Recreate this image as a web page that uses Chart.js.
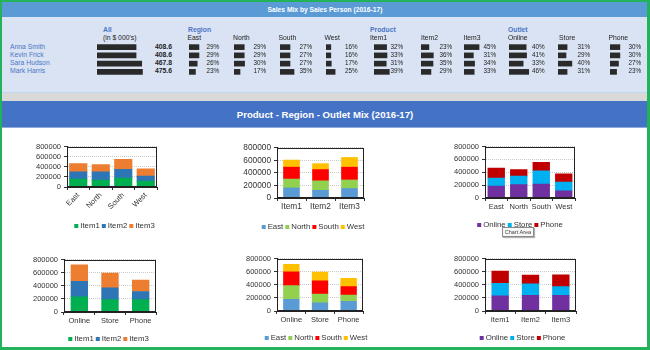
<!DOCTYPE html>
<html>
<head>
<meta charset="utf-8">
<script src="https://cdn.jsdelivr.net/npm/chart.js@4.4.0/dist/chart.umd.min.js"></script>
<style>
body { margin:0; width:650px; height:350px; overflow:hidden; font-family:'Liberation Sans', Arial, sans-serif; }
#page { position:relative; width:650px; height:350px; overflow:hidden; background:#fff; }
.abs { position:absolute; white-space:nowrap; }
canvas { position:absolute; }
#frame { position:absolute; left:0; top:0; width:650px; height:350px; box-sizing:border-box; border:2px solid #21b25a; border-right-width:3px; border-bottom-width:3px; pointer-events:none; z-index:10; }
#tip { position:absolute; left:502px; top:227px; width:30px; height:8px; border:1px solid #8a8a8a; background:#f7f7f7; font-size:5.5px; line-height:8px; text-align:center; color:#444; box-shadow:1px 1px 1px rgba(0,0,0,.3); z-index:5; }
</style>
</head>
<body>
<div id="page">
  <div class="abs" style="left:0;top:0;width:650px;height:17px;background:#5b9bd5"></div>
  <div class="abs" style="left:0;top:17px;width:650px;height:75px;background:#dae3f3"></div>
  <div class="abs" style="left:0;top:92px;width:650px;height:1px;background:#bdd7ee"></div>
  <div class="abs" style="left:0;top:93px;width:650px;height:8px;background:#d9d9d9"></div>
  <div class="abs" style="left:0;top:101px;width:650px;height:27px;background:#4472c4"></div>
  <div class="abs" style="left:0;top:127px;width:650px;height:1px;background:#8eaadb"></div>
  <div class="abs" style="left:0;top:4px;width:650px;text-align:center;color:#fff;font-weight:bold;font-size:6.7px;line-height:11px">Sales Mix by Sales Person (2016-17)</div>
  <div class="abs" style="left:0;top:108px;width:650px;text-align:center;color:#fff;font-weight:bold;font-size:9.6px;line-height:13px">Product - Region - Outlet Mix (2016-17)</div>
  <div id="tip">Chart Area</div>
  <div id="frame"></div>
</div>
<script>
// tabla de vendedores
const people = ['Anna Smith', 'Kevin Frick', 'Sara Hudson', 'Mark Harris'];
const allSales = [408.6, 408.6, 467.8, 475.6];
const eastPct = [29, 29, 26, 23];
const northPct = [29, 29, 30, 17];
const southPct = [27, 27, 27, 35];
const westPct = [16, 16, 17, 25];
const item1Pct = [32, 33, 31, 39];
const item2Pct = [23, 36, 35, 29];
const item3Pct = [45, 31, 34, 33];
const onlinePct = [40, 41, 33, 46];
const storePct = [31, 29, 40, 31];
const phonePct = [30, 30, 27, 23];

// graficos
const regions = ['East', 'North', 'South', 'West'];
const items = ['Item1', 'Item2', 'Item3'];
const outlets = ['Online', 'Store', 'Phone'];
const yTicks = [0, 200000, 400000, 600000, 800000];

const item1ByRegion = [156000, 139000, 174000, 116000];
const item2ByRegion = [145000, 162000, 174000, 98000];
const item3ByRegion = [163000, 140000, 197000, 145000];

const eastByItem = [161000, 123000, 152000];
const northByItem = [142000, 152000, 137000];
const southByItem = [190000, 180000, 204000];
const westByItem = [114000, 95000, 156000];

const onlineByRegion = [184000, 207000, 216000, 113000];
const storeByRegion = [127000, 132000, 208000, 136000];
const phoneByRegion = [155000, 103000, 131000, 127000];

const item1ByOutlet = [230000, 189000, 189000];
const item2ByOutlet = [239000, 179000, 124000];
const item3ByOutlet = [248000, 225000, 174000];

const eastByOutlet = [179000, 124000, 147000];
const northByOutlet = [207000, 133000, 97000];
const southByOutlet = [212000, 203000, 128000];
const westByOutlet = [115000, 133000, 125000];

const onlineByItem = [230000, 239000, 239000];
const storeByItem = [193000, 175000, 133000];
const phoneByItem = [184000, 133000, 179000];

const itemColors = ['#00b050', '#2e75b6', '#ed7d31'];
const regionColors = ['#5b9bd5', '#92d050', '#ff0000', '#ffc000'];
const outletColors = ['#7030a0', '#00b0f0', '#c00000'];

Chart.defaults.font.family = "'Liberation Sans', Arial, sans-serif";
const page = document.getElementById('page');
const blue = '#4a76c6';

function addText(txt, x, y, css, right) {
    const d = document.createElement('div');
    d.className = 'abs';
    d.textContent = txt;
    d.style.top = (y - 5) + 'px';
    d.style.height = '10px';
    d.style.lineHeight = '10px';
    d.style.fontSize = '6.8px';
    d.style.color = '#222';
    if (right) {
        d.style.left = (x - 60) + 'px';
        d.style.width = '60px';
        d.style.textAlign = 'right';
    } else {
        d.style.left = x + 'px';
    }
    Object.assign(d.style, css || {});
    page.appendChild(d);
}

const rowY = [46.6, 54.9, 63.1, 71.4];

function miniBars(values, x, w, min, max) {
    const c = document.createElement('canvas');
    c.width = w; c.height = 33;
    c.style.left = x + 'px';
    c.style.top = '42.5px';
    page.appendChild(c);
    new Chart(c, {
        type: 'bar',
        data: { labels: people, datasets: [{ data: values, backgroundColor: '#2a2a2a', barThickness: 5 }] },
        options: {
            indexAxis: 'y', responsive: false, animation: false, events: [],
            layout: { padding: 0 },
            plugins: { legend: { display: false }, tooltip: { enabled: false } },
            scales: { x: { display: false, min: min, max: max }, y: { display: false } }
        }
    });
}

// cabeceras
addText('All', 103, 30, { color: blue, fontWeight: 'bold' });
addText("(in $ 000's)", 103, 38);
addText('Region', 188, 30, { color: blue, fontWeight: 'bold' });
addText('Product', 370, 30, { color: blue, fontWeight: 'bold' });
addText('Outlet', 508, 30, { color: blue, fontWeight: 'bold' });

people.forEach((p, i) => {
    addText(p, 10, rowY[i], { color: blue });
    addText(allSales[i].toFixed(1), 172, rowY[i], { fontWeight: 'bold' }, true);
});
miniBars(allSales, 97, 50, 0, 523);

const tableCols = [
    { head: 'East', data: eastPct, lx: 187.5, bx: 188.5, px: 219, min: 12, max: 53 },
    { head: 'North', data: northPct, lx: 233, bx: 234, px: 266, min: 0, max: 68 },
    { head: 'South', data: southPct, lx: 278.5, bx: 280, px: 312, min: 7, max: 55 },
    { head: 'West', data: westPct, lx: 324.5, bx: 326, px: 357.5, min: 6, max: 56 },
    { head: 'Item1', data: item1Pct, lx: 370, bx: 374, px: 403, min: 0, max: 61 },
    { head: 'Item2', data: item2Pct, lx: 421, bx: 421, px: 452, min: 0, max: 70 },
    { head: 'Item3', data: item3Pct, lx: 463.5, bx: 463.5, px: 496, min: 8, max: 67 },
    { head: 'Online', data: onlinePct, lx: 508, bx: 509, px: 544.5, min: 0, max: 56 },
    { head: 'Store', data: storePct, lx: 559, bx: 557.5, px: 590, min: 14, max: 59 },
    { head: 'Phone', data: phonePct, lx: 608.5, bx: 609.5, px: 641, min: 9, max: 60 }
];

tableCols.forEach(col => {
    addText(col.head, col.lx, 38);
    col.data.forEach((v, i) => addText(v + '%', col.px, rowY[i], { fontSize: '6.3px' }, true));
    miniBars(col.data, col.bx, 24, col.min, col.max);
});

// marco del area de trazado
const framePlugin = {
    id: 'frame',
    afterDraw(chart) {
        const a = chart.chartArea;
        const ctx = chart.ctx;
        ctx.save();
        ctx.strokeStyle = '#222';
        ctx.lineWidth = 1;
        const l = Math.round(a.left) + 0.5, t = Math.round(a.top) + 0.5;
        const r = Math.round(a.right) - 0.5, b = Math.round(a.bottom) - 0.5;
        ctx.strokeRect(l, t, r - l, b - t);
        ctx.restore();
    }
};

function stackChart(cfg) {
    const c = document.createElement('canvas');
    c.width = cfg.w; c.height = cfg.h;
    c.style.left = cfg.x + 'px';
    c.style.top = cfg.y + 'px';
    page.appendChild(c);
    new Chart(c, {
        type: 'bar',
        data: {
            labels: cfg.labels,
            datasets: cfg.series.map((s, i) => ({
                label: cfg.names[i], data: s, backgroundColor: cfg.colors[i], barThickness: cfg.bar
            }))
        },
        options: {
            responsive: false, animation: false, events: [],
            layout: { padding: 0 },
            plugins: {
                legend: {
                    position: 'bottom',
                    labels: { usePointStyle: true, pointStyle: 'rect', boxWidth: 0.1, boxHeight: 4, padding: 4, color: '#333', font: { size: 7.8 } }
                },
                tooltip: { enabled: false }
            },
            scales: {
                x: {
                    stacked: true,
                    grid: { drawOnChartArea: false, tickLength: 3, tickColor: '#333', offset: true },
                    border: { color: '#222' },
                    ticks: { color: '#333', font: { size: cfg.font }, padding: 1, maxRotation: cfg.rot, minRotation: cfg.rot, autoSkip: false },
                    afterFit: s => { s.height = cfg.xh; }
                },
                y: {
                    stacked: true, min: yTicks[0], max: yTicks[yTicks.length - 1],
                    ticks: { stepSize: yTicks[1] - yTicks[0], autoSkip: false, color: '#333', font: { size: cfg.font }, padding: 3, callback: v => String(v) },
                    grid: { color: '#c8c8c8', tickColor: '#333', tickLength: 3 },
                    border: { color: '#222', dash: [1, 1] },
                    afterFit: s => { s.width = cfg.yw; }
                },
                yR: {
                    position: 'right', display: true,
                    grid: { display: false }, ticks: { display: false }, border: { display: false },
                    afterFit: s => { s.width = cfg.rw; }
                }
            }
        },
        plugins: [framePlugin]
    });
}

stackChart({ x: 30, y: 139, w: 171, h: 101, yw: 37, rw: 44, xh: 31.2, rot: 45, font: 7.5, bar: 17.5,
    labels: regions, names: items, colors: itemColors, series: [item1ByRegion, item2ByRegion, item3ByRegion] });
stackChart({ x: 233, y: 140, w: 162, h: 101, yw: 44, rw: 31, xh: 21.2, rot: 0, font: 8.3, bar: 16,
    labels: items, names: regions, colors: regionColors, series: [eastByItem, northByItem, southByItem, westByItem] });
stackChart({ x: 450, y: 139, w: 142, h: 100, yw: 35, rw: 17, xh: 19.2, rot: 0, font: 7.5, bar: 16.7,
    labels: regions, names: outlets, colors: outletColors, series: [onlineByRegion, storeByRegion, phoneByRegion] });
stackChart({ x: 29, y: 252, w: 161, h: 101, yw: 35, rw: 34, xh: 19.2, rot: 0, font: 7.5, bar: 16.7,
    labels: outlets, names: items, colors: itemColors, series: [item1ByOutlet, item2ByOutlet, item3ByOutlet] });
stackChart({ x: 241, y: 251, w: 152, h: 101, yw: 36, rw: 30, xh: 19.2, rot: 0, font: 7.5, bar: 15.7,
    labels: outlets, names: regions, colors: regionColors, series: [eastByOutlet, northByOutlet, southByOutlet, westByOutlet] });
stackChart({ x: 450, y: 251, w: 147, h: 101, yw: 35, rw: 21, xh: 19.2, rot: 0, font: 7.5, bar: 16.7,
    labels: items, names: outlets, colors: outletColors, series: [onlineByItem, storeByItem, phoneByItem] });
</script>
</body>
</html>
